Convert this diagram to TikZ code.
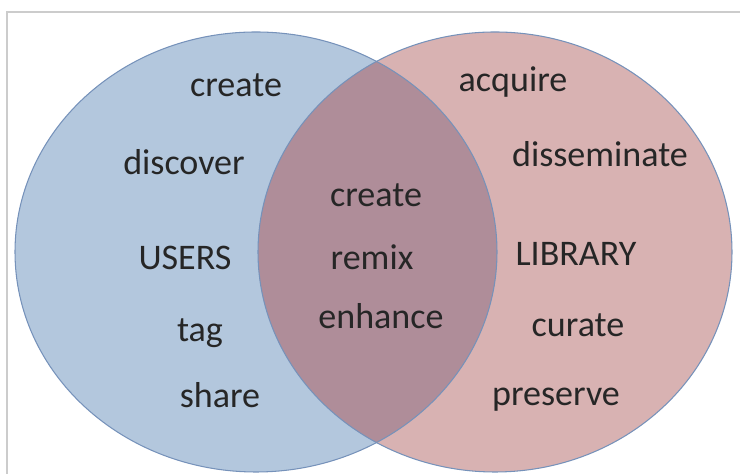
\documentclass[tikz,border=0pt]{standalone}
\usepackage{fontspec}
\setmainfont{Carlito}
\usepackage{tikz}
\newcommand{\vennellipse}[3]% center, xdim, ydim
{(#1) ellipse (#2 and #3)
}
\definecolor{usersblue}{RGB}{179,199,221}
\definecolor{librarypink}{RGB}{216,178,178}
\definecolor{overlapmauve}{RGB}{175,141,153}
\definecolor{rimblue}{RGB}{118,146,186}
\tikzset{word/.style={anchor=base, text=black!85, inner sep=0pt,
  font=\fontsize{20.5}{24}\selectfont}}

\begin{document}
\begin{tikzpicture}
	\useasboundingbox (0,0) rectangle (14.8,9.48);
	\draw[black!20, line width=0.6pt] (0.14,0) -- (0.14,9.24) -- (14.8,9.24);
	\fill[usersblue] \vennellipse{5.12,4.44}{4.82}{4.40};
	\fill[librarypink] \vennellipse{9.90,4.44}{4.74}{4.40};
	\begin{scope}
		\clip \vennellipse{5.12,4.44}{4.82}{4.40};
		\fill[overlapmauve] \vennellipse{9.90,4.44}{4.74}{4.40};
	\end{scope}
	\draw[rimblue, line width=0.6pt] \vennellipse{5.12,4.44}{4.82}{4.40};
	\draw[rimblue, line width=0.6pt] \vennellipse{9.90,4.44}{4.74}{4.40};
	% users side
	\node[word] (ucreate) at (4.72,7.54){create};
	\node[word] (udiscover) at (3.68,5.98){discover};
	\node[word] (users) at (3.70,4.08){USERS};
	\node[word] (utag) at (4.00,2.64){tag};
	\node[word] (ushare) at (4.40,1.32){share};
	% overlap
	\node[word] (bcreate) at (7.52,5.34){create};
	\node[word] (bremix) at (7.44,4.08){remix};
	\node[word] (benhance) at (7.62,2.90){enhance};
	% library side
	\node[word] (lacquire) at (10.26,7.64){acquire};
	\node[word] (ldisseminate) at (12.00,6.14){disseminate};
	\node[word] (library) at (11.52,4.16){LIBRARY};
	\node[word] (lcurate) at (11.56,2.74){curate};
	\node[word] (lpreserve) at (11.12,1.36){preserve};
\end{tikzpicture}
\end{document}
